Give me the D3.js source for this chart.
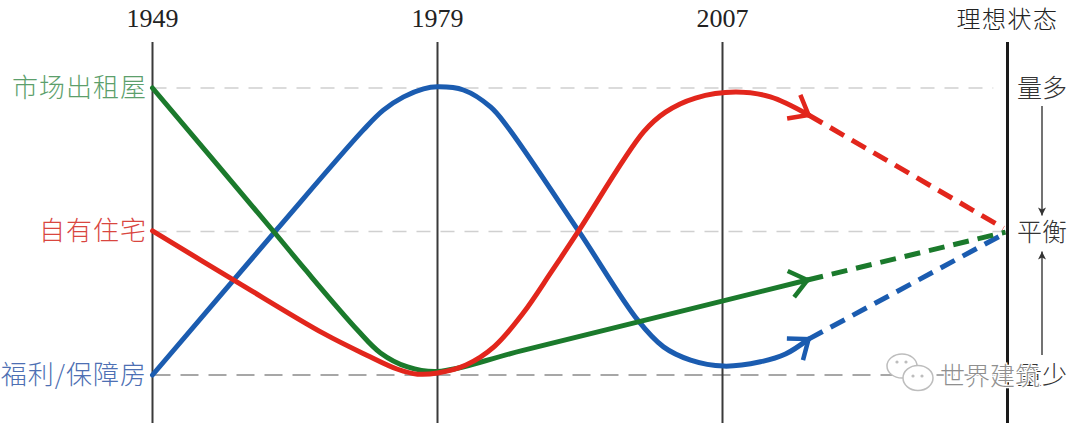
<!DOCTYPE html>
<html>
<head>
<meta charset="utf-8">
<script src="https://cdn.jsdelivr.net/npm/d3@7"></script>
<style>
  html, body { margin: 0; padding: 0; background: #fff; }
  svg { display: block; }
</style>
</head>
<body>
<svg id="chart" width="1080" height="423"></svg>
<script>
// ---- data ----
const periods = ["1949", "1979", "2007", "理想状态"];
const levels = ["量少", "平衡", "量多"];            // v = 0, 0.5, 1
const levelValues = [0, 0.5, 1];
const seriesNames = ["市场出租屋", "自有住宅", "福利/保障房"];
const seriesStart = [1, 0.502, 0];                 // starting level of each series

// solid history paths [periodIndex, level]
const rentalValues = [[0, 1], [0.425, 0.5], [0.537, 0.366], [0.719, 0.157], [0.8, 0.077],
  [0.895, 0.028], [1, 0.012], [1.3, 0.086], [2.298, 0.331]];
const ownedValues = [[0, 0.502], [0.3, 0.322], [0.6, 0.145], [0.75, 0.07], [0.86, 0.02],
  [0.93, 0.003], [1, 0.007], [1.1, 0.035], [1.2, 0.1], [1.3, 0.215], [1.4, 0.36], [1.495, 0.502],
  [1.723, 0.847], [1.8, 0.916], [1.905, 0.965], [2.046, 0.986], [2.168, 0.969], [2.302, 0.906]];
const welfareValues = [[0, 0], [0.432, 0.502], [0.74, 0.854], [0.81, 0.923], [0.881, 0.969],
  [0.951, 0.997], [1, 1.004], [1.091, 0.993], [1.186, 0.934], [1.246, 0.864], [1.495, 0.502],
  [1.702, 0.192], [1.793, 0.098], [1.888, 0.052], [2.004, 0.031], [2.133, 0.046],
  [2.221, 0.073], [2.302, 0.125]];
// dashed projections to the ideal state
const rentalFuture = [[2.298, 0.331], [2.993, 0.498]];
const ownedFuture = [[2.302, 0.906], [2.986, 0.512]];
const welfareFuture = [[2.302, 0.125], [2.975, 0.485]];

const colors = { rental: "#1b7a2c", owned: "#e2261c", welfare: "#1b5cb0" };
const labelColors = ["#5c9f6c", "#d9463f", "#4d6fb3"];

// ---- setup ----
const svg = d3.select("#chart");
const x = d3.scaleLinear().domain([0, 3]).range([152.5, 1007.5]);
const y = d3.scaleLinear().domain([0, 1]).range([375, 88]);

const defs = svg.append("defs");
function chevron(id, color) {
  defs.append("marker")
    .attr("id", id).attr("markerUnits", "userSpaceOnUse")
    .attr("viewBox", "-24 -18 28 36").attr("refX", 0).attr("refY", 0)
    .attr("markerWidth", 28).attr("markerHeight", 36).attr("orient", "auto")
    .append("path").attr("d", "M-17,-13.5L0,0L-17,13.5")
    .attr("fill", "none").attr("stroke", color).attr("stroke-width", 4.5)
    .attr("stroke-linejoin", "miter");
}
chevron("arr-rental", colors.rental);
chevron("arr-owned", colors.owned);
chevron("arr-welfare", colors.welfare);
defs.append("marker")
  .attr("id", "arr-small").attr("markerUnits", "userSpaceOnUse")
  .attr("viewBox", "-10 -5 12 10").attr("refX", 0).attr("refY", 0)
  .attr("markerWidth", 12).attr("markerHeight", 10).attr("orient", "auto")
  .append("path").attr("d", "M-8,-4L0,0L-8,4L-6,0Z").attr("fill", "#333");

// horizontal guide lines
const guideStyle = [
  { v: 1, color: "#d0d0d0", dash: "14,10", w: 1.5, x1: 0, x2: 2.95 },
  { v: 0.5, color: "#d0d0d0", dash: "14,10", w: 1.5, x1: 0, x2: 3 },
  { v: 0, color: "#8a8a8a", dash: "18,10", w: 1.5, x1: 0, x2: 3 }
];
svg.append("g").selectAll("line").data(guideStyle).join("line")
  .attr("x1", d => x(d.x1)).attr("x2", d => x(d.x2))
  .attr("y1", d => y(d.v)).attr("y2", d => y(d.v))
  .attr("stroke", d => d.color).attr("stroke-width", d => d.w)
  .attr("stroke-dasharray", d => d.dash);

// vertical period lines
svg.append("g").selectAll("line").data(periods).join("line")
  .attr("x1", (d, i) => x(i)).attr("x2", (d, i) => x(i))
  .attr("y1", 42).attr("y2", 423)
  .attr("stroke", (d, i) => i === 3 ? "#1a1a1a" : "#3a3a3a")
  .attr("stroke-width", (d, i) => i === 3 ? 3 : 2);

// period labels
svg.append("g").selectAll("text").data(periods).join("text")
  .attr("x", (d, i) => x(i)).attr("y", (d, i) => i === 3 ? 28 : 27)
  .attr("text-anchor", "middle")
  .attr("font-family", (d, i) => i === 3 ? "'Noto Sans CJK SC', sans-serif" : "'Liberation Serif', 'DejaVu Serif', serif")
  .attr("font-size", (d, i) => i === 3 ? 24 : 26)
  .attr("letter-spacing", (d, i) => i === 3 ? 1.5 : 0)
  .attr("font-weight", (d, i) => i === 3 ? 300 : 400)
  .attr("fill", "#222")
  .text(d => d);

// curves
const line = d3.line().x(d => x(d[0])).y(d => y(d[1])).curve(d3.curveCatmullRom.alpha(0.5));
const straight = d3.line().x(d => x(d[0])).y(d => y(d[1]));

const solid = [
  { data: welfareValues, c: colors.welfare, m: "arr-welfare" },
  { data: rentalValues, c: colors.rental, m: "arr-rental" },
  { data: ownedValues, c: colors.owned, m: "arr-owned" }
];
const dashed = [
  { data: welfareFuture, c: colors.welfare },
  { data: rentalFuture, c: colors.rental },
  { data: ownedFuture, c: colors.owned }
];
svg.append("g").selectAll("path").data(dashed).join("path")
  .attr("d", d => straight(d.data)).attr("fill", "none")
  .attr("stroke", d => d.c).attr("stroke-width", 5).attr("stroke-dasharray", "16,9");
svg.append("g").selectAll("path").data(solid).join("path")
  .attr("d", d => line(d.data)).attr("fill", "none")
  .attr("stroke", d => d.c).attr("stroke-width", 5)
  .attr("stroke-linecap", "round")
  .attr("marker-end", d => `url(#${d.m})`);

// left series labels
svg.append("g").selectAll("text").data(seriesNames).join("text")
  .attr("x", 147).attr("y", (d, i) => y(seriesStart[i]) + 9)
  .attr("text-anchor", "end")
  .attr("font-family", "'Noto Sans CJK SC', sans-serif")
  .attr("font-weight", 300)
  .attr("font-size", 26)
  .attr("letter-spacing", 1)
  .attr("fill", (d, i) => labelColors[i])
  .text(d => d);

// right level labels
svg.append("g").selectAll("text").data(levels).join("text")
  .attr("x", 1017).attr("y", (d, i) => y(levelValues[i]) + 9)
  .attr("font-family", "'Noto Sans CJK SC', sans-serif")
  .attr("font-weight", 300)
  .attr("font-size", 25)
  .attr("fill", "#333")
  .text(d => d);

// level arrows
const lx = 1042;
svg.append("line").attr("x1", lx).attr("x2", lx)
  .attr("y1", y(1) + 18).attr("y2", y(0.5) - 16)
  .attr("stroke", "#444").attr("stroke-width", 1.5).attr("marker-end", "url(#arr-small)");
svg.append("line").attr("x1", lx).attr("x2", lx)
  .attr("y1", y(0) - 20).attr("y2", y(0.5) + 20)
  .attr("stroke", "#444").attr("stroke-width", 1.5).attr("marker-end", "url(#arr-small)");

// watermark
const wm = svg.append("g");
wm.append("ellipse").attr("cx", 902).attr("cy", 366).attr("rx", 15).attr("ry", 12)
  .attr("fill", "#fff").attr("stroke", "#bdbdbd").attr("stroke-width", 1.5);
wm.append("ellipse").attr("cx", 918).attr("cy", 378).attr("rx", 15).attr("ry", 12.5)
  .attr("fill", "#fff").attr("stroke", "#bdbdbd").attr("stroke-width", 1.5);
[[897, 362], [906, 362], [913, 376], [922, 376]].forEach(p =>
  wm.append("circle").attr("cx", p[0]).attr("cy", p[1]).attr("r", 1.6).attr("fill", "#bdbdbd"));
wm.append("text").attr("x", 940).attr("y", 385)
  .attr("font-family", "'Noto Sans CJK SC', sans-serif").attr("font-size", 25).attr("font-weight", 300)
  .attr("fill", "#8f8f8f").attr("stroke", "#fff").attr("stroke-width", 2.5)
  .attr("paint-order", "stroke")
  .text("世界建筑");
</script>
</body>
</html>
